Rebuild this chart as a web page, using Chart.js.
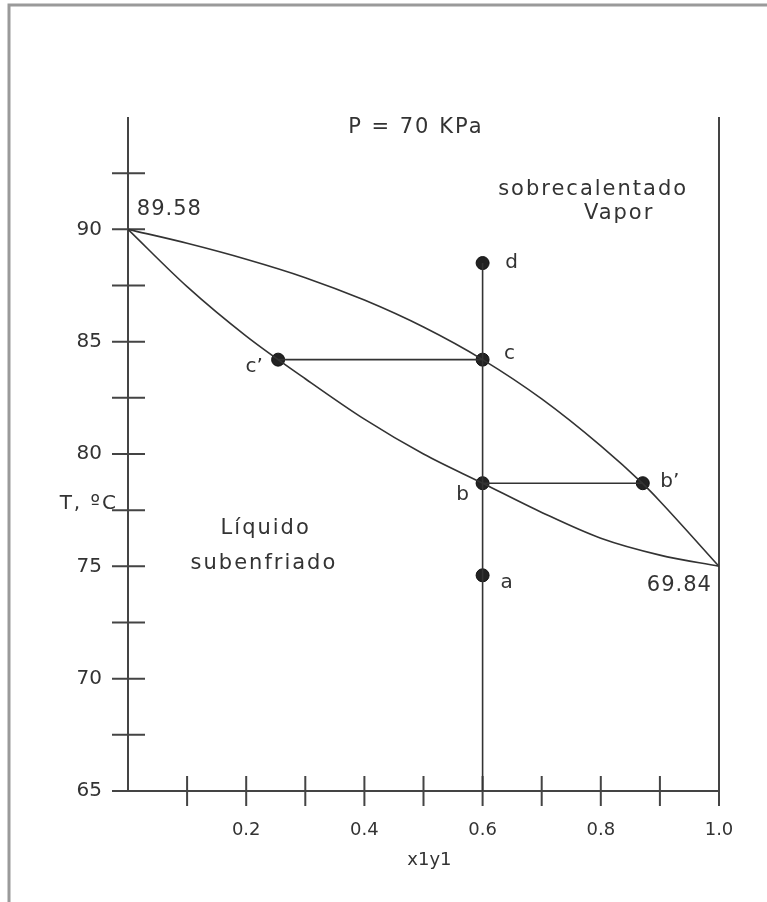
<!DOCTYPE html>
<html>
<head>
<meta charset="utf-8">
<title>P = 70 KPa</title>
<script src="https://cdn.jsdelivr.net/npm/chart.js@4/dist/chart.umd.min.js"></script>
<style>
  html, body { margin: 0; padding: 0; background: #fff; }
  canvas { display: block; }
</style>
</head>
<body>
<canvas id="diagrama" width="767" height="902"></canvas>
<script>
// curva de rocío (vapor saturado)
const dewX = [0, 0.1, 0.2, 0.3, 0.4, 0.5, 0.6, 0.7, 0.8, 0.871, 0.9, 1.0];
const dewT = [90, 89.38, 88.67, 87.85, 86.85, 85.65, 84.2, 82.45, 80.36, 78.68, 77.9, 75];

// curva de burbuja (líquido saturado)
const bubbleX = [0, 0.1, 0.2, 0.3, 0.4, 0.5, 0.6, 0.7, 0.8, 0.9, 1.0];
const bubbleT = [90, 87.45, 85.25, 83.35, 81.55, 80.0, 78.7, 77.4, 76.25, 75.5, 75];

// puntos del proceso
const pointNames = ["d", "c", "b", "a", "c’", "b’"];
const pointX = [0.6, 0.6, 0.6, 0.6, 0.254, 0.871];
const pointT = [88.5, 84.2, 78.7, 74.6, 84.2, 78.7];

// ejes
const xTicks = [0.1, 0.2, 0.3, 0.4, 0.5, 0.6, 0.7, 0.8, 0.9, 1.0];
const xLabels = ["0.2", "0.4", "0.6", "0.8", "1.0"];
const yTicks = [65, 67.5, 70, 72.5, 75, 77.5, 80, 82.5, 85, 87.5, 90, 92.5];
const yLabels = ["65", "70", "75", "80", "85", "90"];

const toPts = (xs, ys) => xs.map((x, i) => ({ x: x, y: ys[i] }));

const ink = "#333";
const font = "DejaVu Sans";

// desplazamiento de cada etiqueta respecto a su punto (px)
const labelOffset = {
  "d": [29, 0], "c": [27, -6], "b": [-20, 12],
  "a": [24, 7], "c’": [-24, 7], "b’": [27, -1]
};

// textos sobre el diagrama (coordenadas x, T)
const notes = [
  { text: "P = 70 KPa", x: 0.487, y: 94.55, align: "center", size: 21, sp: 2 },
  { text: "sobrecalentado", x: 0.787, y: 91.78, align: "center", size: 21, sp: 2 },
  { text: "Vapor", x: 0.831, y: 90.72, align: "center", size: 21, sp: 2 },
  { text: "Líquido", x: 0.233, y: 76.7, align: "center", size: 21, sp: 2 },
  { text: "subenfriado", x: 0.230, y: 75.14, align: "center", size: 21, sp: 2 },
  { text: "89.58", x: 0.015, y: 90.87, align: "left", size: 21, sp: 1 },
  { text: "69.84", x: 0.988, y: 74.16, align: "right", size: 21, sp: 1 },
  { text: "T, ºC", x: -0.017, y: 77.8, align: "right", size: 20, sp: 2 },
  { text: "x1y1", x: 0.51, y: 61.9, align: "center", size: 18, sp: 0 }
];

const dibujo = {
  id: "dibujo",
  beforeDatasetsDraw(chart) {
    const ctx = chart.ctx;
    const xs = chart.scales.x, ys = chart.scales.y;
    ctx.save();
    // marco
    ctx.strokeStyle = "#9a9a9a";
    ctx.lineWidth = 3;
    ctx.beginPath();
    ctx.moveTo(9, 902);
    ctx.lineTo(9, 5);
    ctx.lineTo(767, 5);
    ctx.stroke();

    ctx.strokeStyle = "#444";
    ctx.lineWidth = 2;
    const x0 = xs.getPixelForValue(0), x1 = xs.getPixelForValue(1);
    const yb = ys.getPixelForValue(65), yt = ys.getPixelForValue(95);
    ctx.beginPath();
    ctx.moveTo(x0, yt); ctx.lineTo(x0, yb); ctx.lineTo(x1, yb);
    ctx.moveTo(x1, yt); ctx.lineTo(x1, yb);
    yTicks.forEach((t) => {
      const p = ys.getPixelForValue(t);
      ctx.moveTo(x0 - 16, p); ctx.lineTo(x0 + 17, p);
    });
    xTicks.forEach((t) => {
      const p = xs.getPixelForValue(t);
      ctx.moveTo(p, yb - 15); ctx.lineTo(p, yb + 15);
    });
    ctx.stroke();
    ctx.restore();
  },
  afterDatasetsDraw(chart) {
    const ctx = chart.ctx;
    const xs = chart.scales.x, ys = chart.scales.y;
    ctx.save();
    ctx.fillStyle = ink;
    ctx.textBaseline = "middle";
    notes.forEach((n) => {
      ctx.font = n.size + "px '" + font + "'";
      ctx.letterSpacing = n.sp + "px";
      ctx.textAlign = n.align;
      ctx.fillText(n.text, xs.getPixelForValue(n.x), ys.getPixelForValue(n.y));
    });
    ctx.textAlign = "center";
    ctx.letterSpacing = "0px";
    ctx.font = "20px '" + font + "'";
    pointNames.forEach((name, i) => {
      const o = labelOffset[name];
      ctx.fillText(name, xs.getPixelForValue(pointX[i]) + o[0], ys.getPixelForValue(pointT[i]) + o[1]);
    });
    ctx.restore();
  }
};

const lineStyle = {
  showLine: true, pointRadius: 0, borderColor: "#333", borderWidth: 1.6, fill: false
};

new Chart(document.getElementById("diagrama"), {
  type: "scatter",
  data: {
    datasets: [
      Object.assign({ data: toPts(dewX, dewT), cubicInterpolationMode: "monotone" }, lineStyle),
      Object.assign({ data: toPts(bubbleX, bubbleT), cubicInterpolationMode: "monotone" }, lineStyle),
      // línea vertical x = 0.6
      Object.assign({ data: [{ x: pointX[0], y: 65 }, { x: pointX[0], y: pointT[0] }] }, lineStyle),
      // líneas de unión c'-c y b-b'
      Object.assign({ data: [{ x: pointX[4], y: pointT[4] }, { x: pointX[1], y: pointT[1] }] }, lineStyle),
      Object.assign({ data: [{ x: pointX[2], y: pointT[2] }, { x: pointX[5], y: pointT[5] }] }, lineStyle),
      {
        data: toPts(pointX, pointT),
        showLine: false,
        pointRadius: 6.5,
        pointBackgroundColor: "#222",
        pointBorderColor: "#111",
        pointBorderWidth: 1
      }
    ]
  },
  options: {
    responsive: false,
    animation: false,
    events: [],
    layout: { padding: { top: 117, right: 48, left: 0, bottom: 0 } },
    plugins: { legend: { display: false }, tooltip: { enabled: false } },
    scales: {
      x: {
        type: "linear", min: 0, max: 1,
        grid: { display: false, drawTicks: false },
        border: { display: false },
        afterFit: (s) => { s.height = 111; },
        ticks: {
          stepSize: 0.1, padding: 29, color: ink, maxRotation: 0, autoSkip: false,
          font: { family: font, size: 18 },
          callback: (v) => {
            const s = Number(v).toFixed(1);
            return xLabels.includes(s) ? s : "";
          }
        }
      },
      y: {
        type: "linear", min: 65, max: 95,
        grid: { display: false, drawTicks: false },
        border: { display: false },
        afterFit: (s) => { s.width = 128; },
        ticks: {
          stepSize: 2.5, padding: 26, color: ink, autoSkip: false,
          font: { family: font, size: 20 },
          callback: (v) => yLabels.includes(String(v)) ? String(v) : ""
        }
      }
    }
  },
  plugins: [dibujo]
});
</script>
</body>
</html>
